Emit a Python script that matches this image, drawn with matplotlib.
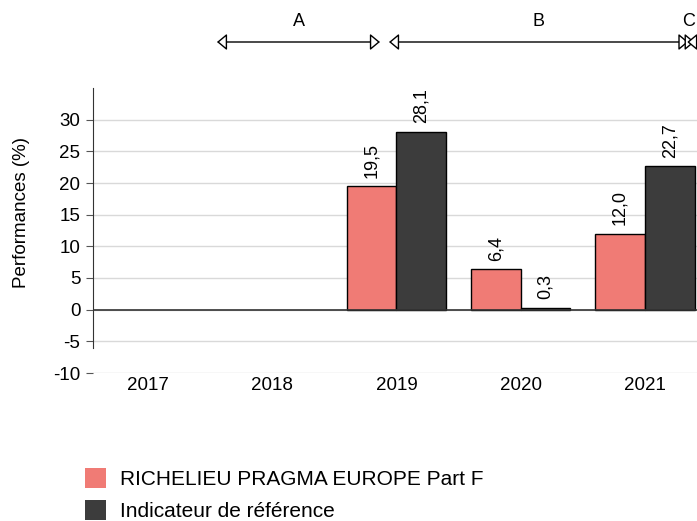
import numpy as np
import matplotlib
matplotlib.use("Agg")
import matplotlib.pyplot as plt
from matplotlib.patches import Patch

plt.rcParams['font.family'] = ['Liberation Sans', 'DejaVu Sans']

years = ["2017", "2018", "2019", "2020", "2021"]
fund = [np.nan, np.nan, 19.5, 6.4, 12.0]
bench = [np.nan, np.nan, 28.1, 0.3, 22.7]
fund_name = "RICHELIEU PRAGMA EUROPE Part F"
bench_name = "Indicateur de référence"
periods = ["A", "B", "C"]
period_bounds = [(0.555, 1.867), (1.94, 4.35), (4.34, 4.40)]

c_fund = "#F07B75"
c_bench = "#3C3C3C"

fig = plt.figure(figsize=(6.97, 5.21), dpi=100)
ax = fig.add_axes([93/697, (521-373)/521, 1 - 93/697, (373-88)/521])

x = np.arange(len(years))
w = 0.4
ax.bar(x - w/2, fund, w, color=c_fund, edgecolor="black", linewidth=1, zorder=3)
ax.bar(x + w/2, bench, w, color=c_bench, edgecolor="black", linewidth=1, zorder=3)

for xs, vals in ((x - w/2, fund), (x + w/2, bench)):
    for xi, v in zip(xs, vals):
        if not np.isnan(v):
            ax.annotate(f"{v:.1f}".replace(".", ","), (xi, max(v, 0)), xytext=(0, 6),
                        textcoords="offset points", rotation=90, ha="center", va="bottom",
                        fontsize=13)

ax.set_xlim(-0.443, 4.419)
ax.set_ylim(-10, 35)
ax.set_yticks(np.arange(-10, 31, 5))
ax.set_yticklabels([str(t) for t in range(-10, 31, 5)], fontsize=13.5)
ax.set_xticks(x)
ax.set_xticklabels(years, fontsize=13.5)
ax.tick_params(axis="x", length=0, pad=3)
ax.tick_params(axis="y", length=5, color="#555555", pad=4)
ax.grid(axis="y", color="#d9d9d9", linewidth=1, zorder=0)
ax.axhline(0, color="#333333", linewidth=1.2, zorder=4)
for s in ["top", "right", "bottom"]:
    ax.spines[s].set_visible(False)
ax.spines["left"].set_bounds(-6, 35)
ax.spines["left"].set_color("#333333")
fig.text(22/697, 1 - 212/521, "Performances (%)", rotation=90, ha="center", va="center",
         fontsize=13.5)

# period arrows above the plot
trans = ax.get_xaxis_transform()
y_arr = 1 + (88 - 42) / (373 - 88)
y_lab = 1 + (88 - 22) / (373 - 88)
for lab, (a, b) in zip(periods, period_bounds):
    ax.annotate("", xy=(a, y_arr), xytext=(b, y_arr), xycoords=trans, textcoords=trans,
                arrowprops=dict(arrowstyle="<|-|>,head_length=0.6,head_width=0.5",
                                facecolor="white", edgecolor="black", lw=1, shrinkA=0, shrinkB=0,
                                mutation_scale=10),
                annotation_clip=False)
    ax.text(min((a + b) / 2, 4.355), y_lab, lab, transform=trans, ha="center", va="center",
            fontsize=13, clip_on=False)

handles = [Patch(facecolor=c_fund, edgecolor="none"), Patch(facecolor=c_bench, edgecolor="none")]
fig.legend(handles, [fund_name, bench_name], loc="upper left",
           bbox_to_anchor=(85/697, 1 - 468/521), borderaxespad=0, borderpad=0,
           frameon=False, fontsize=15, handlelength=1.0, handleheight=1.1, handletextpad=0.7,
           labelspacing=0.5)

fig.savefig("out.png", dpi=100)
